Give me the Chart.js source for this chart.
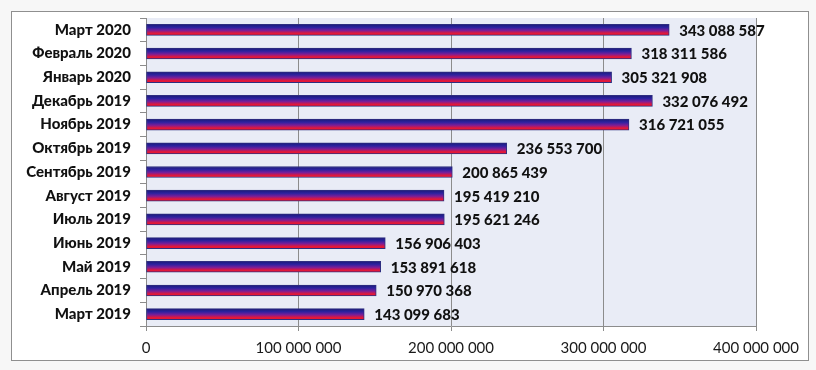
<!DOCTYPE html>
<html>
<head>
<meta charset="utf-8">
<script src="https://cdn.jsdelivr.net/npm/chart.js@4"></script>
<style>
  html, body { margin: 0; padding: 0; background: #f7f7f7; }
  #wrap { width: 816px; height: 370px; }
</style>
</head>
<body>
<div id="wrap"><canvas id="chart" width="816" height="370"></canvas></div>
<script>
// months, top to bottom as in the picture
const months = [
  "Март 2020", "Февраль 2020", "Январь 2020", "Декабрь 2019", "Ноябрь 2019",
  "Октябрь 2019", "Сентябрь 2019", "Август 2019", "Июль 2019", "Июнь 2019",
  "Май 2019", "Апрель 2019", "Март 2019"
]
const amounts = [
  343088587, 318311586, 305321908, 332076492, 316721055,
  236553700, 200865439, 195419210, 195621246, 156906403,
  153891618, 150970368, 143099683
]
const xTicks = [0, 100000000, 200000000, 300000000, 400000000]

// 343088587 -> "343 088 587"
function fmt(n) {
  return String(n).replace(/\B(?=(\d{3})+(?!\d))/g, " ")
}

// white frame + plot background
const framePlugin = {
  id: "frame",
  beforeDraw(chart) {
    const c = chart.ctx
    const a = chart.chartArea
    c.save()
    c.fillStyle = "#ffffff"
    c.fillRect(11, 11, 797, 349)
    c.strokeStyle = "#8f8f8f"
    c.lineWidth = 1
    c.strokeRect(11.5, 11.5, 797, 349)
    c.fillStyle = "#e9ecf6"
    c.fillRect(a.left, a.top, a.right - a.left, a.bottom - a.top)
    c.restore()
  }
}

// value labels to the right of each bar
const valuePlugin = {
  id: "values",
  afterDatasetsDraw(chart) {
    const c = chart.ctx
    const meta = chart.getDatasetMeta(0)
    c.save()
    c.font = "900 15px Lato"
    c.fillStyle = "#111111"
    c.textBaseline = "middle"
    c.textAlign = "left"
    meta.data.forEach((bar, i) => {
      c.fillText(fmt(amounts[i]), bar.x + 10, bar.y + 1)
    })
    c.restore()
  }
}

function barGradient(ctx) {
  const chart = ctx.chart
  const sc = chart.scales.y
  const y = sc ? sc.getPixelForValue(ctx.dataIndex) : NaN
  if (!isFinite(y)) return "#8020a0"
  const g = chart.ctx.createLinearGradient(0, y - 6, 0, y + 6)
  g.addColorStop(0, "#181870")
  g.addColorStop(0.3, "#2c22a0")
  g.addColorStop(0.55, "#7a1e98")
  g.addColorStop(0.78, "#e0183c")
  g.addColorStop(1, "#f01428")
  return g
}

new Chart(document.getElementById("chart"), {
  type: "bar",
  data: {
    labels: months,
    datasets: [{
      data: amounts,
      backgroundColor: barGradient,
      borderColor: "#2e2e80",
      borderWidth: 1,
      borderSkipped: false,
      barThickness: 11
    }]
  },
  options: {
    indexAxis: "y",
    responsive: false,
    animation: false,
    layout: { padding: { left: 0, top: 11, right: 60, bottom: 10 } },
    plugins: {
      legend: { display: false },
      tooltip: { enabled: false }
    },
    scales: {
      x: {
        min: 0,
        max: 400000000,
        afterBuildTicks: axis => { axis.ticks = xTicks.map(v => ({ value: v })) },
        afterFit: axis => { axis.height = 34 },
        ticks: {
          callback: v => fmt(v),
          color: "#1a1a1a",
          font: { family: "Lato", size: 15 },
          padding: 8,
          maxRotation: 0
        },
        grid: { color: "#8c8c8c", lineWidth: 1, tickLength: 5 },
        border: { color: "#8c8c8c" }
      },
      y: {
        afterFit: axis => { axis.width = 146 },
        ticks: {
          color: "#111111",
          font: { family: "Lato", size: 15, weight: "900" },
          padding: 9
        },
        grid: {
          offset: true,
          drawOnChartArea: false,
          color: "#8c8c8c",
          tickLength: 6
        },
        border: { color: "#8c8c8c" }
      }
    }
  },
  plugins: [framePlugin, valuePlugin]
})
</script>
</body>
</html>
